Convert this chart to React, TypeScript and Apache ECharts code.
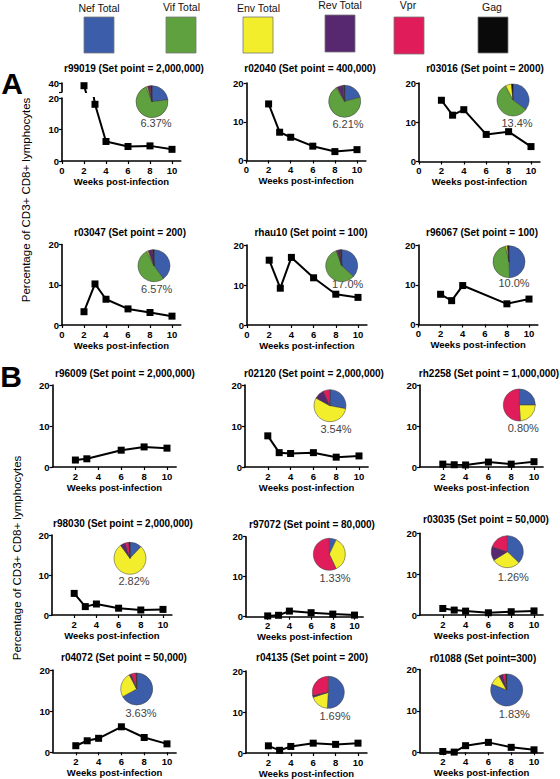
import React, { useEffect, useRef } from "react";
import * as echarts from "echarts";

const FONT = '"Liberation Sans", Arial, Helvetica, sans-serif';

// Legend
const proteins = ["Nef Total", "Vif Total", "Env Total", "Rev Total", "Vpr", "Gag"];
const proteinColors = ["#3c5eaa", "#5fa03f", "#f3ee2b", "#57276f", "#e11c5b", "#0a0a0a"];

// Axes
const weeks = [2, 3, 4, 6, 8, 10];
const xTicksA = [0, 2, 4, 6, 8, 10];
const xTicksB = [2, 4, 6, 8, 10];
const brokenTicks = [35, 40];
const xAxisName = "Weeks post-infection";
const yAxisName = "Percentage of CD3+ CD8+ lymphocytes";

// Titles
const titles = [
  "r99019 (Set point = 2,000,000)",
  "r02040 (Set point = 400,000)",
  "r03016 (Set point = 2000)",
  "r03047 (Set point = 200)",
  "rhau10 (Set point = 100)",
  "r96067 (Set point = 100)",
  "r96009 (Set point = 2,000,000)",
  "r02120 (Set point = 2,000,000)",
  "rh2258 (Set point = 1,000,000)",
  "r98030 (Set point = 2,000,000)",
  "r97072 (Set point = 80,000)",
  "r03035 (Set point = 50,000)",
  "r04072 (Set point = 50,000)",
  "r04135 (Set point = 200)",
  "r01088 (Set point=300)",
];

// % CD3+ CD8+ lymphocytes at weeks 2,3,4,6,8,10
const r99019 = [38.5, 18, 6.2, 4.6, 4.8, 3.7];
const r02040 = [14.6, 7.3, 6.0, 3.7, 2.3, 2.8];
const r03016 = [15.6, 11.8, 13.2, 6.9, 7.6, 3.8];
const r03047 = [3.3, 10.2, 6.4, 4.0, 3.1, 2.2];
const rhau10 = [16.2, 9.2, 16.9, 11.8, 7.7, 6.9];
const r96067 = [7.6, 6.0, 9.8, null, 5.2, 6.4];
const r96009 = [1.7, 2.0, null, 4.1, 4.9, 4.6];
const r02120 = [7.6, 3.5, 3.3, 3.5, 2.4, 2.7];
const rh2258 = [0.7, 0.55, 0.5, 1.2, 0.7, 1.3];
const r98030 = [5.4, 2.1, 2.75, 1.7, 1.25, 1.4];
const r97072 = [0.2, 0.35, 1.4, 1.0, 0.65, 0.4];
const r03035 = [1.6, 1.2, 0.95, 0.55, 0.8, 1.0];
const r04072 = [1.6, 2.8, 3.4, 6.2, 3.6, 2.05];
const r04135 = [1.75, 0.65, 1.6, 2.4, 2.1, 2.4];
const r01088 = [0.2, 0.05, 1.6, 2.4, 1.2, 0.6];

// Pie compositions: Nef, Vif, Env, Rev, Vpr, Gag
const pieR99019 = [23, 71, 1.5, 2.5, 1, 1];
const pieR02040 = [21, 70, 1, 6, 1, 1];
const pieR03016 = [35, 57, 6, 0, 0, 1.5];
const pieR03047 = [40, 52.5, 1.5, 4.5, 0.5, 1];
const pieRhau10 = [37, 58, 0.5, 3.5, 0.5, 1];
const pieR96067 = [49.5, 47, 2, 0.5, 0, 1];
const pieR02120 = [28, 0, 55, 10, 7, 0];
const pieRh2258 = [25, 0, 24, 0, 51, 0];
const pieR98030 = [12, 0, 78, 5, 4, 1];
const pieR97072 = [7, 0, 36, 0, 57, 0];
const pieR03035 = [37, 0, 29, 14, 20, 0];
const pieR04072 = [66, 0, 25, 2, 5, 0.5];
const pieR04135 = [51, 0, 19, 2, 28, 0];
const pieR01088 = [81, 0, 11, 4, 3, 1];

const pctLabels = ["6.37%", "6.21%", "13.4%", "6.57%", "17.0%", "10.0%", "", "3.54%", "0.80%", "2.82%", "1.33%", "1.26%", "3.63%", "1.69%", "1.83%"];

const seriesValues = [r99019, r02040, r03016, r03047, rhau10, r96067, r96009, r02120, rh2258, r98030, r97072, r03035, r04072, r04135, r01088];
const pieValues = [pieR99019, pieR02040, pieR03016, pieR03047, pieRhau10, pieR96067, null, pieR02120, pieRh2258, pieR98030, pieR97072, pieR03035, pieR04072, pieR04135, pieR01088];

// Layout (pixels): x0 = week 0, x10 = week 10, top = y 20, bot = y 0
const layout = [
  { x0: 62, x10: 172, top: 98, bot: 161, pie: [152, 101.7], pct: [156, 123], title: [134, 68] },
  { x0: 246.5, x10: 357, top: 83, bot: 160.5, pie: [344.7, 101.3], pct: [348, 124], title: [310, 68] },
  { x0: 419, x10: 531, top: 83, bot: 161.5, pie: [513, 100], pct: [517, 122.7], title: [485, 68] },
  { x0: 62, x10: 172, top: 244.5, bot: 325, pie: [154, 265.7], pct: [156.7, 289], title: [130, 232] },
  { x0: 247, x10: 358, top: 245, bot: 325, pie: [341.7, 265.7], pct: [347.7, 284.3], title: [311, 232] },
  { x0: 418.5, x10: 529, top: 245, bot: 324.5, pie: [509, 261.7], pct: [514, 282.7], title: [482, 232] },
  { x0: 52.5, x10: 167, top: 385, bot: 467, pie: null, pct: null, title: [125, 373] },
  { x0: 245, x10: 359, top: 385, bot: 467, pie: [330, 405.7], pct: [336, 429], title: [314, 373] },
  { x0: 420, x10: 534, top: 385, bot: 467, pie: [519.3, 405], pct: [523.3, 428.3], title: [489, 373] },
  { x0: 52, x10: 163, top: 535, bot: 615, pie: [130, 558.3], pct: [134, 580.7], title: [123, 523] },
  { x0: 246, x10: 354.5, top: 536.7, bot: 616.7, pie: [329.3, 554.3], pct: [335, 578.3], title: [312, 524] },
  { x0: 420, x10: 534, top: 533.3, bot: 615, pie: [507.3, 551.7], pct: [513.3, 576.7], title: [486, 519] },
  { x0: 53, x10: 167, top: 670, bot: 752.3, pie: [136.7, 689], pct: [141, 713.3], title: [124, 657.5] },
  { x0: 246, x10: 358, top: 671, bot: 753, pie: [328.3, 692.3], pct: [335, 716], title: [312, 657.5] },
  { x0: 420, x10: 534, top: 669.5, bot: 752.3, pie: [506.7, 690], pct: [514.3, 714], title: [483, 658] },
];
const brokenGrid = { top: 83, bot: 92 };
const X_MAX = 10.8;

const legendBoxes = [
  { x: 84, y: 17, w: 30, h: 36, lx: 99, ly: 8 },
  { x: 166, y: 17, w: 30, h: 36, lx: 181.5, ly: 7 },
  { x: 243, y: 17, w: 30, h: 36, lx: 258.5, ly: 7.5 },
  { x: 325, y: 15, w: 30, h: 37, lx: 340, ly: 5 },
  { x: 394, y: 17, w: 30, h: 37, lx: 408, ly: 4.5 },
  { x: 478, y: 17, w: 30, h: 36, lx: 492, ly: 7 },
];

function buildOption() {
  const grid: any[] = [];
  const xAxis: any[] = [];
  const yAxis: any[] = [];
  const series: any[] = [];
  const graphic: any[] = [];

  const axisLine = { show: true, onZero: false, lineStyle: { color: "#000", width: 1.6 } };
  const labelStyle = { color: "#000", fontSize: 9.5, fontWeight: "bold", fontFamily: FONT };
  const center = { align: "center", verticalAlign: "middle", textAlign: "center", textVerticalAlign: "middle" };

  layout.forEach((L, i) => {
    const isA = i < 6;
    const xt = isA ? xTicksA : xTicksB;
    grid.push({ left: L.x0, top: L.top, width: (L.x10 - L.x0) * (X_MAX / 10), height: L.bot - L.top });
    xAxis.push({
      gridIndex: i, type: "value", min: 0, max: X_MAX,
      axisLine,
      axisTick: { show: true, customValues: xt, length: 3, lineStyle: { color: "#000", width: 1.2 } },
      axisLabel: { ...labelStyle, customValues: xt, margin: 4 },
      splitLine: { show: false },
      name: xAxisName, nameLocation: "middle", nameGap: 15,
      nameTextStyle: { ...labelStyle },
    });
    yAxis.push({
      gridIndex: i, type: "value", min: 0, max: 20, interval: 10,
      axisLine,
      axisTick: { show: true, length: 3, lineStyle: { color: "#000", width: 1.2 } },
      axisLabel: { ...labelStyle, margin: 3 },
      splitLine: { show: false },
    });
    series.push({
      type: "line", xAxisIndex: i, yAxisIndex: i,
      data: weeks.map((w, k) => [w, seriesValues[i][k]]).filter((d) => d[1] != null),
      connectNulls: true, clip: true,
      symbol: "rect", symbolSize: 7,
      lineStyle: { color: "#000", width: 2 },
      itemStyle: { color: "#000" },
      silent: true,
    });
    const pv = pieValues[i];
    if (pv && L.pie) {
      series.push({
        type: "pie", center: L.pie, radius: 16, startAngle: 90, clockwise: true,
        silent: true, label: { show: false }, labelLine: { show: false },
        itemStyle: { borderColor: "#3a3a3a", borderWidth: 0.5 },
        data: proteins
          .map((p, k) => ({ name: p, value: pv[k], itemStyle: { color: proteinColors[k] } }))
          .filter((d) => d.value > 0),
      });
    }
    if (L.pct && pctLabels[i]) {
      graphic.push({
        type: "text", x: L.pct[0], y: L.pct[1],
        style: { text: pctLabels[i], fill: "#444", fontSize: 11, fontFamily: FONT, ...center },
      });
    }
    graphic.push({
      type: "text", x: L.title[0], y: L.title[1],
      style: { text: titles[i], fill: "#000", fontSize: 10, fontWeight: "bold", fontFamily: FONT, ...center },
    });
  });

  // Upper part of the broken axis for r99019
  const L0 = layout[0];
  const bi = layout.length;
  grid.push({ left: L0.x0, top: brokenGrid.top, width: (L0.x10 - L0.x0) * (X_MAX / 10), height: brokenGrid.bot - brokenGrid.top });
  xAxis.push({ gridIndex: bi, type: "value", min: 0, max: X_MAX, show: false });
  yAxis.push({
    gridIndex: bi, type: "value", min: 35, max: 40, interval: 5,
    axisLine,
    axisTick: { show: true, length: 3, customValues: brokenTicks, lineStyle: { color: "#000", width: 1.2 } },
    axisLabel: { ...labelStyle, margin: 3, customValues: [40] },
    splitLine: { show: false },
  });
  series.push({
    type: "line", xAxisIndex: bi, yAxisIndex: bi,
    data: weeks.map((w, k) => [w, r99019[k]]), clip: true,
    symbol: "rect", symbolSize: 7,
    lineStyle: { color: "#000", width: 2 }, itemStyle: { color: "#000" }, silent: true,
  });

  // Legend boxes
  legendBoxes.forEach((b, k) => {
    graphic.push({
      type: "rect", shape: { x: b.x, y: b.y, width: b.w, height: b.h },
      style: { fill: proteinColors[k], stroke: "#777", lineWidth: 0.8 },
    });
    graphic.push({
      type: "text", x: b.lx, y: b.ly,
      style: { text: proteins[k], fill: "#111", fontSize: 10.5, fontFamily: FONT, ...center },
    });
  });

  // Panel letters
  graphic.push({ type: "text", x: 12, y: 83, style: { text: "A", fill: "#000", fontSize: 30, fontWeight: "bold", fontFamily: FONT, ...center } });
  graphic.push({ type: "text", x: 11, y: 376, style: { text: "B", fill: "#000", fontSize: 30, fontWeight: "bold", fontFamily: FONT, ...center } });

  // Y axis titles
  graphic.push({ type: "text", x: 26, y: 200, rotation: Math.PI / 2, style: { text: yAxisName, fill: "#000", fontSize: 11.5, fontFamily: FONT, ...center } });
  graphic.push({ type: "text", x: 17, y: 558, rotation: Math.PI / 2, style: { text: yAxisName, fill: "#000", fontSize: 11.5, fontFamily: FONT, ...center } });

  return {
    animation: false,
    backgroundColor: "#fff",
    textStyle: { fontFamily: FONT },
    grid, xAxis, yAxis, series, graphic,
  };
}

export default function App() {
  const ref = useRef<HTMLDivElement>(null);
  useEffect(() => {
    if (!ref.current) return;
    const chart = echarts.init(ref.current, undefined, { renderer: "svg" });
    chart.setOption(buildOption() as any);
    return () => chart.dispose();
  }, []);
  return <div ref={ref} style={{ position: "absolute", left: 0, top: 0, width: 560, height: 779 }} />;
}
